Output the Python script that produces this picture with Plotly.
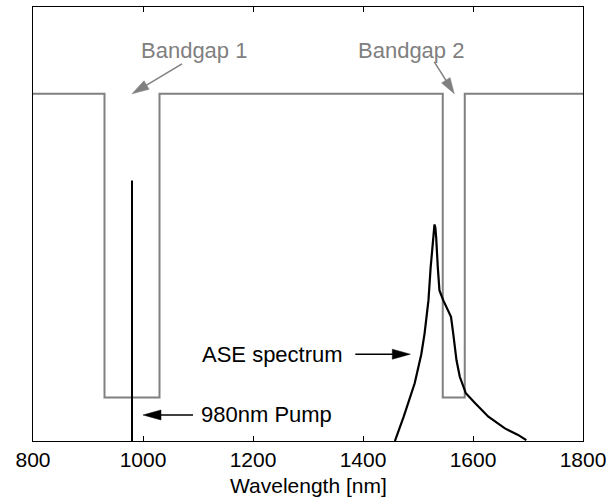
import math
import plotly.graph_objects as go

# ---- data ----
bg_x = [800, 930, 1030, 1545, 1585, 1800]        # bandgap step edges (nm)
bg_y = [0.8, 0.1, 0.8, 0.1, 0.8, 0.8]            # transmission level after each edge

pump_x = [980, 980]
pump_y = [0.0, 0.6]

ase_wl = [1458, 1474, 1494, 1506, 1512, 1519, 1523, 1527, 1528.5, 1530, 1531.5, 1533,
          1536, 1539, 1546, 1552, 1560, 1564, 1570, 1576, 1587, 1604, 1628, 1658, 1682, 1697]
ase_val = [0.0, 0.056, 0.133, 0.2, 0.248, 0.324, 0.40, 0.47, 0.492, 0.499, 0.492, 0.47,
           0.40, 0.347, 0.324, 0.309, 0.286, 0.248, 0.186, 0.148, 0.11, 0.087, 0.056, 0.029, 0.014, 0.002]

x_ticks = [800, 1000, 1200, 1400, 1600, 1800]

FONT = "Liberation Sans, Arial, sans-serif"
GRAY = "#808080"

fig = go.Figure()
fig.add_trace(go.Scatter(x=bg_x, y=bg_y, mode="lines", line=dict(color=GRAY, width=2, shape="hv"),
                         showlegend=False, hoverinfo="skip"))
fig.add_trace(go.Scatter(x=pump_x, y=pump_y, mode="lines", line=dict(color="black", width=2),
                         showlegend=False, hoverinfo="skip"))
fig.add_trace(go.Scatter(x=ase_wl, y=ase_val, mode="lines", line=dict(color="black", width=2.2),
                         showlegend=False, hoverinfo="skip"))

shapes = []


def arrow(hx, hy, dx, dy, color, L, W, lw):
    # dx, dy: tail offset from head in screen pixels (y down)
    tx, ty = dx, -dy
    n = math.hypot(tx, ty)
    ux, uy = tx / n, ty / n
    px, py = -uy, ux
    bx, by = ux * L, uy * L
    shapes.append(dict(type="line", xref="x", yref="y", xsizemode="pixel", ysizemode="pixel",
                       xanchor=hx, yanchor=hy, x0=bx * 0.8, y0=by * 0.8, x1=tx, y1=ty,
                       line=dict(color=color, width=lw)))
    c1 = (bx + px * W / 2, by + py * W / 2)
    c2 = (bx - px * W / 2, by - py * W / 2)
    path = f"M0,0 L{c1[0]:.2f},{c1[1]:.2f} L{c2[0]:.2f},{c2[1]:.2f} Z"
    shapes.append(dict(type="path", xref="x", yref="y", xsizemode="pixel", ysizemode="pixel",
                       xanchor=hx, yanchor=hy, path=path, fillcolor=color,
                       line=dict(color=color, width=0.5)))


arrow(980, 0.8, 50, -30, GRAY, 17, 10, 1.5)
arrow(1566, 0.8, -20, -32, GRAY, 16, 10, 1.5)
arrow(1486, 0.2, -55, 0, "black", 18, 10, 1.5)
arrow(1000, 0.06, 50, 0, "black", 18, 10, 1.5)

annotations = [
    dict(x=1092, y=0.899, text="Bandgap 1", font=dict(color=GRAY, size=22, family=FONT)),
    dict(x=1487, y=0.899, text="Bandgap 2", font=dict(color=GRAY, size=22, family=FONT)),
    dict(x=1367, y=0.2, text="ASE spectrum", xanchor="right", font=dict(color="black", size=22, family=FONT)),
    dict(x=1102, y=0.06, text="980nm Pump", xanchor="left", font=dict(color="black", size=22, family=FONT)),
]
for a in annotations:
    a.update(xref="x", yref="y", showarrow=False)
    a.setdefault("xanchor", "center")
    a["yanchor"] = "middle"

annotations.append(dict(x=0.5, y=0, xref="paper", yref="paper", xanchor="center", yanchor="top",
                        yshift=-31, showarrow=False, text="Wavelength [nm]",
                        font=dict(color="black", size=21, family=FONT)))

fig.update_layout(
    width=612, height=499,
    margin=dict(l=33, r=27, t=6, b=58),
    paper_bgcolor="white", plot_bgcolor="white",
    font=dict(family=FONT, size=21, color="black"),
    shapes=shapes, annotations=annotations,
    xaxis=dict(range=[800, 1800], tickvals=x_ticks, ticks="inside", ticklen=5, tickwidth=1,
               tickcolor="black", showline=True, linecolor="black", linewidth=1, mirror="ticks",
               showgrid=False, zeroline=False, tickfont=dict(size=21)),
    yaxis=dict(range=[0, 1], showticklabels=False, ticks="", showline=True, linecolor="black",
               linewidth=1, mirror=True, showgrid=False, zeroline=False),
)

fig.write_html("out.html")
